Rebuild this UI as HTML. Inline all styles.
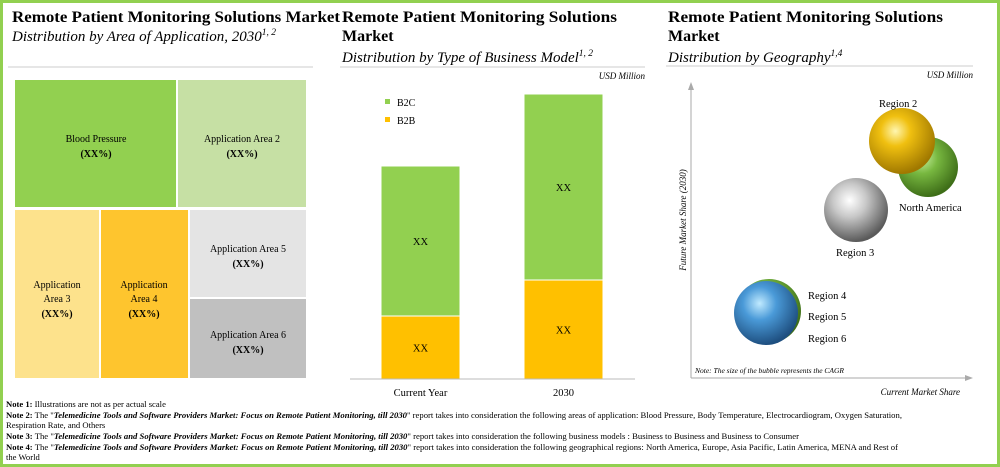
<!DOCTYPE html>
<html><head><meta charset="utf-8">
<style>
html,body{margin:0;padding:0;background:#fff;}
#wrap{position:relative;width:1000px;height:467px;overflow:hidden;font-family:"Liberation Serif",serif;}
svg{position:absolute;left:0;top:0}
</style></head>
<body>
<div id="wrap">
<svg id="svg" width="1000" height="467" viewBox="0 0 1000 467" font-family="Liberation Serif, serif">
<defs>
<radialGradient id="gY" cx="0.4" cy="0.35" r="0.65"><stop offset="0" stop-color="#fff6b0"/><stop offset="0.35" stop-color="#f0c010"/><stop offset="1" stop-color="#a07800"/></radialGradient>
<radialGradient id="gG" cx="0.4" cy="0.35" r="0.65"><stop offset="0" stop-color="#c8f0a0"/><stop offset="0.4" stop-color="#78b840"/><stop offset="1" stop-color="#3e6e18"/></radialGradient>
<radialGradient id="gS" cx="0.4" cy="0.35" r="0.65"><stop offset="0" stop-color="#ffffff"/><stop offset="0.4" stop-color="#c8c8c8"/><stop offset="1" stop-color="#5a5a5a"/></radialGradient>
<radialGradient id="gB" cx="0.4" cy="0.35" r="0.65"><stop offset="0" stop-color="#c0eaff"/><stop offset="0.4" stop-color="#4a9ad8"/><stop offset="1" stop-color="#1e4f80"/></radialGradient>
</defs>
<rect x="1.5" y="1.5" width="997" height="464" fill="none" stroke="#92d050" stroke-width="3"/>

<!-- Left panel -->
<text x="12" y="22" font-size="16" font-weight="bold" textLength="328" lengthAdjust="spacingAndGlyphs">Remote Patient Monitoring Solutions Market</text>
<text x="12" y="41" font-size="15" font-style="italic">Distribution by Area of Application, 2030<tspan font-size="9.5" dy="-6">1, 2</tspan></text>
<line x1="8" y1="67" x2="313" y2="67" stroke="#ccc"/>
<g font-size="10" text-anchor="middle">
<rect x="15" y="80" width="161" height="127" fill="#92d050"/>
<text x="96" y="142">Blood Pressure</text><text x="96" y="157" font-weight="bold">(XX%)</text>
<rect x="178" y="80" width="128" height="127" fill="#c6e0a4"/>
<text x="242" y="142">Application Area 2</text><text x="242" y="157" font-weight="bold">(XX%)</text>
<rect x="15" y="210" width="84" height="168" fill="#fde28c"/>
<text x="57" y="288">Application</text><text x="57" y="302">Area 3</text><text x="57" y="317" font-weight="bold">(XX%)</text>
<rect x="101" y="210" width="87" height="168" fill="#fec52e"/>
<text x="144" y="288">Application</text><text x="144" y="302">Area 4</text><text x="144" y="317" font-weight="bold">(XX%)</text>
<rect x="190" y="210" width="116" height="87" fill="#e4e4e4"/>
<text x="248" y="252">Application Area 5</text><text x="248" y="267" font-weight="bold">(XX%)</text>
<rect x="190" y="299" width="116" height="79" fill="#c0c0c0"/>
<text x="248" y="338">Application Area 6</text><text x="248" y="353" font-weight="bold">(XX%)</text>
</g>

<!-- Middle panel -->
<text x="342" y="22" font-size="16" font-weight="bold" textLength="275" lengthAdjust="spacingAndGlyphs">Remote Patient Monitoring Solutions</text>
<text x="342" y="41" font-size="16" font-weight="bold">Market</text>
<text x="342" y="62" font-size="15" font-style="italic">Distribution by Type of Business Model<tspan font-size="9.5" dy="-6">1, 2</tspan></text>
<line x1="340" y1="67" x2="645" y2="67" stroke="#ccc"/>
<text x="645" y="79" font-size="9" font-style="italic" text-anchor="end">USD Million</text>
<rect x="385" y="99" width="5" height="5" fill="#92d050"/>
<text x="397" y="106" font-size="10">B2C</text>
<rect x="385" y="117" width="5" height="5" fill="#ffc000"/>
<text x="397" y="124" font-size="10">B2B</text>
<g id="bars"></g>
<line x1="350" y1="379" x2="635" y2="379" stroke="#bbb"/>

<!-- Right panel -->
<text x="668" y="22" font-size="16" font-weight="bold" textLength="275" lengthAdjust="spacingAndGlyphs">Remote Patient Monitoring Solutions</text>
<text x="668" y="41" font-size="16" font-weight="bold">Market</text>
<text x="668" y="62" font-size="15" font-style="italic">Distribution by Geography<tspan font-size="9.5" dy="-6">1,4</tspan></text>
<line x1="666" y1="66" x2="973" y2="66" stroke="#ccc"/>
<text x="973" y="78" font-size="9" font-style="italic" text-anchor="end">USD Million</text>
<line x1="691" y1="378" x2="691" y2="88" stroke="#aaa"/>
<polygon points="691,82 688,90 694,90" fill="#aaa"/>
<line x1="691" y1="378" x2="966" y2="378" stroke="#aaa"/>
<polygon points="973,378 965,375 965,381" fill="#aaa"/>
<text transform="translate(686,220) rotate(-90)" font-size="9" font-style="italic" text-anchor="middle">Future Market Share (2030)</text>
<text x="960" y="395" font-size="9" font-style="italic" text-anchor="end">Current Market Share</text>
<text x="695" y="373" font-size="7.5" font-style="italic">Note: The size of the bubble represents the CAGR</text>
<circle cx="928" cy="167" r="30" fill="url(#gG)"/>
<circle cx="902" cy="141" r="33" fill="url(#gY)"/>
<circle cx="856" cy="210" r="32" fill="url(#gS)"/>
<circle cx="769" cy="311" r="32" fill="url(#gG)"/>
<circle cx="766" cy="313" r="32" fill="url(#gB)"/>
<g font-size="10.5">
<text x="879" y="107">Region 2</text>
<text x="899" y="211">North America</text>
<text x="836" y="256">Region 3</text>
<text x="808" y="299">Region 4</text>
<text x="808" y="320">Region 5</text>
<text x="808" y="342">Region 6</text>
</g>

<!-- Notes -->
<g font-size="8.6">
<text x="6" y="407"><tspan font-weight="bold">Note 1:</tspan> Illustrations are not as per actual scale</text>
<text x="6" y="418" textLength="896" lengthAdjust="spacingAndGlyphs"><tspan font-weight="bold">Note 2:</tspan> The "<tspan font-weight="bold" font-style="italic">Telemedicine Tools and Software Providers Market: Focus on Remote Patient Monitoring, till 2030</tspan>" report takes into consideration the following areas of application: Blood Pressure, Body Temperature, Electrocardiogram, Oxygen Saturation,</text>
<text x="6" y="428">Respiration Rate, and Others</text>
<text x="6" y="439" textLength="793" lengthAdjust="spacingAndGlyphs"><tspan font-weight="bold">Note 3:</tspan> The "<tspan font-weight="bold" font-style="italic">Telemedicine Tools and Software Providers Market: Focus on Remote Patient Monitoring, till 2030</tspan>" report takes into consideration the following business models : Business to Business and Business to Consumer</text>
<text x="6" y="450" textLength="892" lengthAdjust="spacingAndGlyphs"><tspan font-weight="bold">Note 4:</tspan> The "<tspan font-weight="bold" font-style="italic">Telemedicine Tools and Software Providers Market: Focus on Remote Patient Monitoring, till 2030</tspan>" report takes into consideration the following geographical regions: North America, Europe, Asia Pacific, Latin America, MENA and Rest of</text>
<text x="6" y="460">the World</text>
</g>
</svg>
</div>
<script>
const categories = ["Current Year", "2030"];
const b2bValues = [21, 33];
const b2cValues = [50, 62];
const barLabels = ["XX", "XX"];

const NS = "http://www.w3.org/2000/svg";
const baseY = 379, pxPerUnit = 3, firstX = 381, step = 143, barW = 79;
function yScale(v){ return baseY - v * pxPerUnit; }
function xScale(i){ return firstX + i * step; }
const g = document.getElementById("bars");
function mk(tag, attrs){ const e = document.createElementNS(NS, tag); for (const k in attrs) e.setAttribute(k, attrs[k]); return e; }
categories.forEach((c, i) => {
  const x = xScale(i);
  const yB2B = yScale(b2bValues[i]);
  const yTop = yScale(b2bValues[i] + b2cValues[i]);
  const r1 = mk("rect", {x: x, y: yB2B, width: barW, height: baseY - yB2B, fill: "#ffc000", stroke: "#fff", "stroke-width": 1});
  
  
  g.appendChild(r1);
  const r2 = mk("rect", {x: x, y: yTop, width: barW, height: yB2B - yTop, fill: "#92d050", stroke: "#fff", "stroke-width": 1});
  
  
  g.appendChild(r2);
  const t1 = mk("text", {x: x + barW/2, y: (yB2B + baseY)/2 + 4, "font-size": 10.5, "text-anchor": "middle"});
  t1.textContent = barLabels[i];
  
  
  g.appendChild(t1);
  const t2 = mk("text", {x: x + barW/2, y: (yTop + yB2B)/2 + 4, "font-size": 10.5, "text-anchor": "middle"});
  t2.textContent = barLabels[i];
  
  
  g.appendChild(t2);
  const t3 = mk("text", {x: x + barW/2, y: 396, "font-size": 10.5, "text-anchor": "middle"});
  t3.textContent = c;
  
  
  g.appendChild(t3);
});
</script>
</body></html>
